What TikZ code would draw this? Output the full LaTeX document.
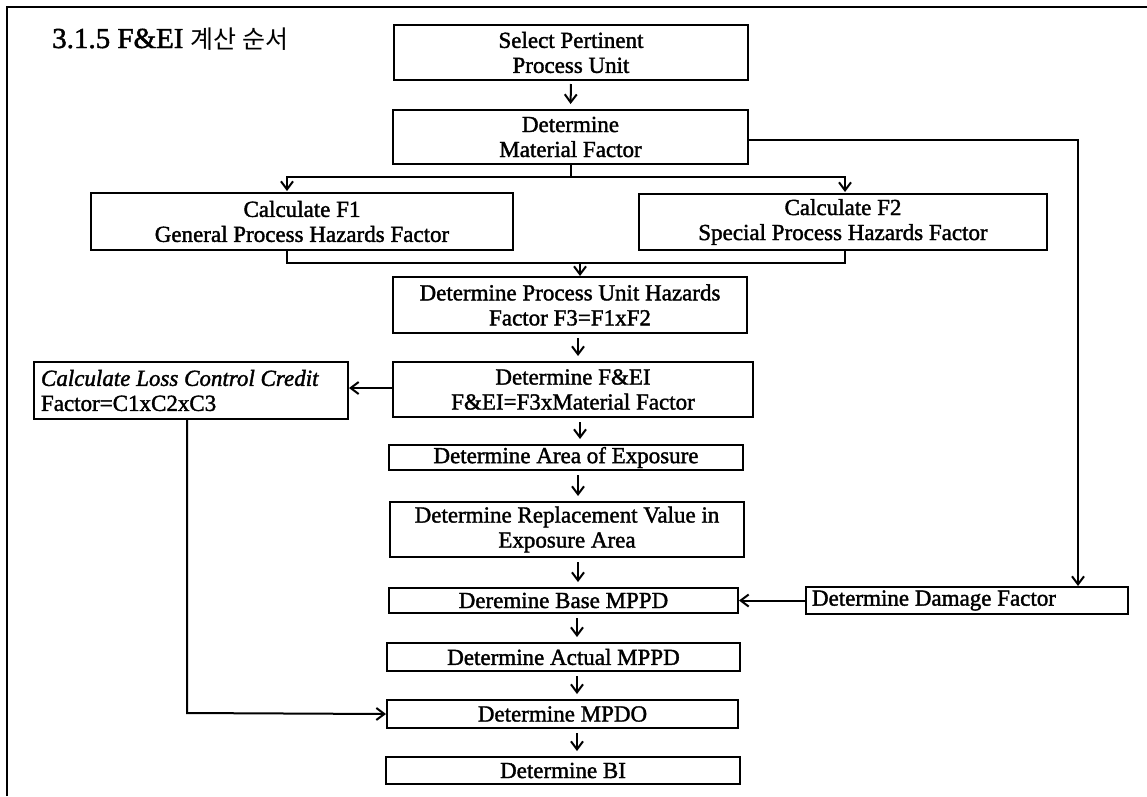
\documentclass[tikz,border=0pt]{standalone}
\usepackage{fontspec}
\setmainfont{Liberation Serif}
\newfontfamily\boxfont{Liberation Serif}[FakeBold=1.6]
\newfontfamily\krfont{Noto Sans CJK KR}
\usetikzlibrary{arrows.meta}
\begin{document}
\begin{tikzpicture}[x=1pt,y=-1pt,
  box/.style={draw,line width=2pt,inner sep=0pt,align=center,
    font=\boxfont\fontsize{23}{25}\selectfont},
  conn/.style={line width=2pt},
  arr/.style={line width=2pt,-{Straight Barb[length=8pt,width=12pt,line width=2pt]}},
]
\useasboundingbox (0,0) rectangle (1147,796);
% frame (cropped)
\draw[line width=2pt] (7,796) -- (7,7) -- (1147,7);
% title
\node[anchor=base west,inner sep=0pt,font=\boxfont\fontsize{29}{30}\selectfont] (title) at (52,48)
  {3.1.5 F\&EI {\krfont\fontsize{25}{26}\selectfont 계산 순서}};
% boxes
\node[box,minimum width=354,minimum height=55] (sel) at (571,52.5) {Select Pertinent\\Process Unit};
\node[box,minimum width=355,minimum height=54] (mat) at (570.5,137) {Determine\\Material Factor};
\node[box,minimum width=422,minimum height=57] (f1) at (302,221.5) {Calculate F1\\General Process Hazards Factor};
\node[box,minimum width=408,minimum height=56] (f2) at (843,222) {Calculate F2\\Special Process Hazards Factor};
\node[box,minimum width=354,minimum height=56] (puh) at (570,305) {Determine Process Unit Hazards\\Factor F3=F1xF2};
\node[box,minimum width=360,minimum height=55] (fei) at (573,389.5) {Determine F\&EI\\F\&EI=F3xMaterial Factor};
\node[box,minimum width=314,minimum height=57,text width=300,align=flush left] (lcc) at (191,390.5)
  {{\itshape Calculate Loss Control Credit}\\Factor=C1xC2xC3};
\node[box,minimum width=354,minimum height=25] (area) at (566,457.5) {Determine Area of Exposure};
\node[box,minimum width=354,minimum height=55] (rep) at (567,529.5) {Determine Replacement Value in\\Exposure Area};
\node[box,minimum width=349,minimum height=25] (base) at (563.5,600.5) {Deremine Base MPPD};
\node[box,minimum width=322,minimum height=27,text width=310,align=flush left] (dmg) at (967,600.5) {Determine Damage Factor};
\node[box,minimum width=353,minimum height=28] (act) at (563.5,657) {Determine Actual MPPD};
\node[box,minimum width=351,minimum height=28] (mpdo) at (562.5,714) {Determine MPDO};
\node[box,minimum width=354,minimum height=27] (bi) at (563,770.5) {Determine BI};
% connectors
\draw[arr,shorten <=3pt,shorten >=5pt] (sel.south) -- (mat.north);
\coordinate (mb) at (570.5,177);
\coordinate (mbl) at (287,177);
\coordinate (mbr) at (845,177);
\draw[conn] (mat.south) -- (mb);
\draw[arr,shorten >=1pt] (mb) -- (mbl) -- (mbl |- f1.north);
\draw[arr,shorten >=1pt] (mb) -- (mbr) -- (mbr |- f2.north);
\coordinate (mr) at (1078,140);
\draw[arr] (mat.east |- mr) -- (mr) -- (mr |- dmg.north);
\coordinate (jl) at (287,263);
\coordinate (jr) at (845,263);
\coordinate (jm) at (580,263);
\draw[conn] (jl |- f1.south) -- (jl) -- (jr) -- (jr |- f2.south);
\draw[arr] (jm) -- (jm |- puh.north);
\draw[arr,shorten <=4pt,shorten >=5pt] (puh.south -| 578,0) -- (fei.north -| 578,0);
\draw[arr] (fei.west |- 0,388) -- (lcc.east |- 0,388);
\draw[arr,shorten <=4pt,shorten >=5pt] (fei.south -| 580,0) -- (area.north -| 580,0);
\draw[arr,shorten <=4pt,shorten >=5pt] (area.south -| 578,0) -- (rep.north -| 578,0);
\draw[arr,shorten <=4pt,shorten >=5pt] (rep.south -| 578,0) -- (base.north -| 578,0);
\draw[arr] (dmg.west) -- (base.east);
\draw[arr,shorten <=4pt,shorten >=5pt] (base.south -| 577,0) -- (act.north -| 577,0);
\draw[arr,shorten <=4pt,shorten >=5pt] (act.south -| 577,0) -- (mpdo.north -| 577,0);
\draw[arr,shorten <=4pt,shorten >=5pt] (mpdo.south -| 577,0) -- (bi.north -| 577,0);
\coordinate (lb) at (187,713);
\draw[arr] (lcc.south -| lb) -- (lb) -- (mpdo.west);
\end{tikzpicture}
\end{document}
